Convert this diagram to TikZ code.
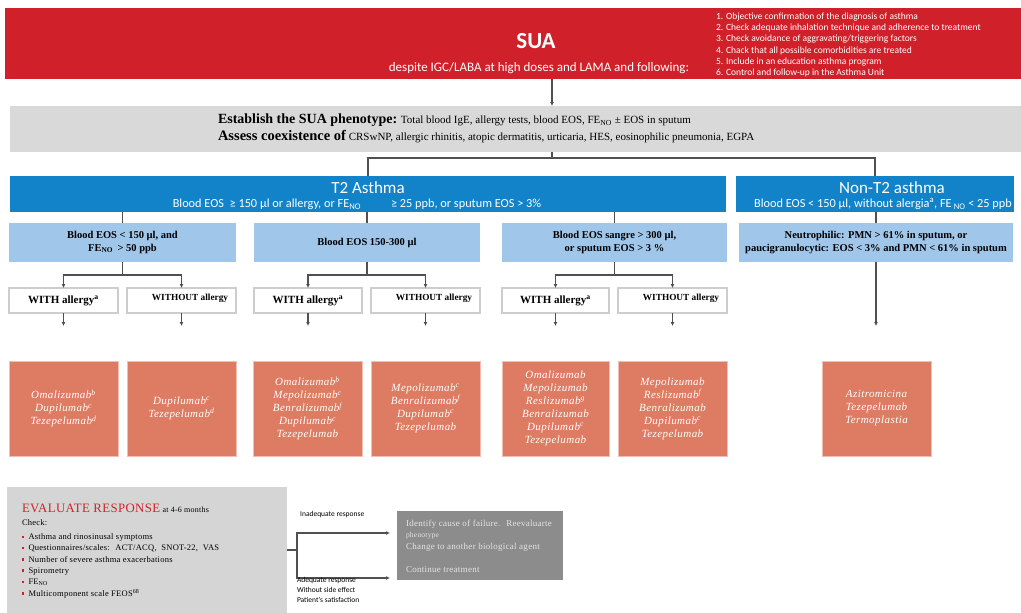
\documentclass[tikz,border=0pt]{standalone}
\usepackage{fontspec}
\setmainfont{Liberation Serif}
\newfontfamily\calibri{Carlito}
\newfontfamily\spacedserif{Liberation Serif}[LetterSpace=3]
\newfontfamily\drugserif{Liberation Serif}[LetterSpace=4]
\usetikzlibrary{arrows.meta}

\definecolor{suared}{RGB}{208,33,42}
\definecolor{tblue}{RGB}{18,131,200}
\definecolor{lblue}{RGB}{160,198,234}
\definecolor{drugorange}{RGB}{222,123,99}
\definecolor{drugedge}{RGB}{240,190,178}
\definecolor{phengray}{RGB}{217,217,217}
\definecolor{evalgray}{RGB}{213,213,213}
\definecolor{failgray}{RGB}{140,140,140}
\definecolor{failtext}{RGB}{228,228,228}
\definecolor{boxedge}{RGB}{205,205,205}
\definecolor{linegray}{RGB}{80,80,80}

% small red square for the check list
\newcommand{\evbullet}{\textcolor{suared}{\rule[1.5pt]{2.5pt}{2.5pt}}\hspace{4pt}}

\tikzset{
  box/.style={anchor=north west,inner sep=0pt,outer sep=0pt},
  conn/.style={draw=linegray,line width=1.1pt},
  arr/.style={conn,-{Latex[length=4pt,width=4pt]}},
  lightbox/.style={box,fill=lblue,minimum height=39pt,align=center,
    font=\bfseries\fontsize{10.5}{12.5}\selectfont},
  allergybox/.style={box,fill=white,draw=boxedge,line width=1.2pt,
    minimum height=25pt,font=\bfseries\fontsize{11}{12}\selectfont},
  withoutlabel/.style={label={[xshift=8.5pt,yshift=2pt,font=\bfseries\fontsize{9.3}{10}\selectfont]center:WITHOUT allergy}},
  drugbox/.style={box,fill=drugorange,draw=drugedge,line width=0.8pt,
    minimum width=109pt,minimum height=95pt,align=center,text=white,
    font=\drugserif\itshape\fontsize{11}{13}\selectfont},
}

\begin{document}
\begin{tikzpicture}[x=1pt,y=-1pt]
  \useasboundingbox (0,0) rectangle (1021,613);

  % red header with the checklist
  \node[box,fill=suared,minimum width=1016pt,minimum height=71pt] (sua) at (5,8) {};
  \node[white,font=\calibri\bfseries\fontsize{23}{26}\selectfont] (suatitle) at (536,41) {SUA};
  \node[white,font=\calibri\fontsize{13}{15}\selectfont] (despite) at (539,68)
    {despite IGC/LABA at high doses and LAMA and following:};
  \node[box,white,align=left,font=\calibri\fontsize{9.5}{11.2}\selectfont] (checks) at (716,13)
    {1. Objective confirmation of the diagnosis of asthma\\
     2. Check adequate inhalation technique and adherence to treatment\\
     3. Check avoidance of aggravating/triggering factors\\
     4. Chack that all possible comorbidities are treated\\
     5. Include in an education asthma program\\
     6. Control and follow-up in the Asthma Unit};

  % phenotype box
  \coordinate (spine) at (552,0);
  \node[box,fill=phengray,minimum width=1011pt,minimum height=46pt] (pheno) at (10,106) {};
  \node[box,align=left,font=\fontsize{11}{16.5}\selectfont] (phenotext) at (218,114)
    {{\bfseries\fontsize{14}{16.5}\selectfont Establish the SUA phenotype:}
     Total blood IgE, allergy tests, blood EOS, FE\textsubscript{NO} ± EOS in sputum\\
     {\bfseries\fontsize{14.5}{16.5}\selectfont Assess coexistence of}
     CRSwNP, allergic rhinitis, atopic dermatitis, urticaria, HES, eosinophilic pneumonia, EGPA};
  \draw[arr] (spine |- sua.south) -- (spine |- pheno.north);

  % T2 / non-T2
  \node[box,fill=tblue,minimum width=716pt,minimum height=36pt] (t2) at (10,176) {};
  \node[box,fill=tblue,minimum width=278pt,minimum height=36pt] (nont2) at (736,176) {};
  \node[white,font=\calibri\fontsize{17}{19}\selectfont] (t2title) at (368,188) {T2 Asthma};
  \node[white,font=\calibri\fontsize{12.3}{14}\selectfont] (t2sub) at (357,204)
    {Blood EOS \ ≥ 150 µl or allergy, or FE\textsubscript{NO}\hspace{30pt}≥ 25 ppb, or sputum EOS > 3\%};
  \node[white,font=\calibri\fontsize{17}{19}\selectfont] (nont2title) at (892,188) {Non-T2 asthma};
  \node[white,font=\calibri\fontsize{12.3}{14}\selectfont] (nont2sub) at (883,204)
    {Blood EOS < 150 µl, without alergia\textsuperscript{a}, FE\,\textsubscript{NO} < 25 ppb};
  \coordinate (split) at (552,158);
  \draw[conn] (split |- pheno.south) -- (split);
  \draw[conn] (t2.north) |- (split) -| (nont2.north);

  % blood EOS groups
  \node[lightbox,minimum width=227pt] (lb1) at (9,223) {Blood EOS < 150 µl, and\\FE\textsubscript{NO} \,> 50 ppb};
  \node[lightbox,minimum width=226pt] (lb2) at (254,223) {Blood EOS 150-300 µl};
  \node[lightbox,minimum width=225pt] (lb3) at (502,223) {Blood EOS sangre > 300 µl,\\or sputum EOS > 3 \%};
  \node[lightbox,minimum width=274pt] (lb4) at (739,223)
    {Neutrophilic: PMN > 61\% in sputum, or\\paucigranulocytic: EOS < 3\% and PMN < 61\% in sputum};
  \draw[conn] (t2.south -| lb1.north) -- (lb1.north);
  \draw[conn] (t2.south -| lb2.north) -- (lb2.north);
  \draw[conn] (t2.south -| lb3.north) -- (lb3.north);
  \draw[conn] (nont2.south -| lb4.north) -- (lb4.north);

  % with / without allergy
  \node[allergybox,minimum width=109pt] (w1) at (9,288) {WITH allergy\textsuperscript{a}};
  \node[allergybox,minimum width=109pt,withoutlabel] (wo1) at (127,288) {};
  \node[allergybox,minimum width=108pt] (w2) at (254,288) {WITH allergy\textsuperscript{a}};
  \node[allergybox,minimum width=109pt,withoutlabel] (wo2) at (371,288) {};
  \node[allergybox,minimum width=107pt] (w3) at (502,288) {WITH allergy\textsuperscript{a}};
  \node[allergybox,minimum width=109pt,withoutlabel] (wo3) at (618,288) {};
  \draw[arr] (lb1.south) -- ++(0,13) -| (w1.north);
  \draw[arr] (lb1.south) -- ++(0,13) -| (wo1.north);
  \draw[arr] (lb2.south) -- ++(0,13) -| (w2.north);
  \draw[arr] (lb2.south) -- ++(0,13) -| (wo2.north);
  \draw[arr] (lb3.south) -- ++(0,13) -| (w3.north);
  \draw[arr] (lb3.south) -- ++(0,13) -| (wo3.north);
  \foreach \b in {w1,wo1,w2,wo2,w3,wo3}
    \draw[arr] (\b.south) -- ++(0,13);
  \draw[arr] (lb4.south) -- ++(0,64);

  % biologics
  \node[drugbox] (drug1) at (9,361) {Omalizumab\textsuperscript{b}\\Dupilumab\textsuperscript{c}\\Tezepelumab\textsuperscript{d}};
  \node[drugbox] (drug2) at (127,361) {Dupilumab\textsuperscript{c}\\Tezepelumab\textsuperscript{d}};
  \node[drugbox] (drug3) at (253,361) {Omalizumab\textsuperscript{b}\\Mepolizumab\textsuperscript{c}\\Benralizumab\textsuperscript{f}\\Dupilumab\textsuperscript{c}\\Tezepelumab};
  \node[drugbox] (drug4) at (371,361) {Mepolizumab\textsuperscript{c}\\Benralizumab\textsuperscript{f}\\Dupilumab\textsuperscript{c}\\Tezepelumab};
  \node[drugbox,minimum width=107pt] (drug5) at (502,361) {Omalizumab\\Mepolizumab\\Reslizumab\textsuperscript{g}\\Benralizumab\\Dupilumab\textsuperscript{c}\\Tezepelumab};
  \node[drugbox] (drug6) at (618,361) {Mepolizumab\\Reslizumab\textsuperscript{f}\\Benralizumab\\Dupilumab\textsuperscript{c}\\Tezepelumab};
  \node[drugbox] (drug7) at (822,361) {Azitromicina\\Tezepelumab\\Termoplastia};

  % evaluate response
  \node[box,fill=evalgray,minimum width=280pt,minimum height=126pt] (evalbox) at (7,487) {};
  \node[box,align=left,font=\spacedserif\fontsize{8.5}{11.3}\selectfont] (evaltext) at (22,504)
    {{\color{suared}\fontsize{12.8}{15}\selectfont EVALUATE RESPONSE} {\fontsize{8}{10}\selectfont at 4-6 months}\\[1.5pt]
     Check:\\[3pt]
     \evbullet Asthma and rinosinusal symptoms\\
     \evbullet Questionnaires/scales: \ ACT/ACQ, \ SNOT-22, \ VAS\\
     \evbullet Number of severe asthma exacerbations\\
     \evbullet Spirometry\\
     \evbullet FE\textsubscript{NO}\\
     \evbullet Multicomponent scale FEOS\textsuperscript{68}};

  % response branches
  \node[box,fill=failgray,minimum width=166pt,minimum height=69pt] (failbox) at (397,511) {};
  \node[box,align=left,text=failtext,font=\spacedserif\fontsize{9}{11.5}\selectfont] (failtext) at (406,520)
    {Identify cause of failure. \ Reevaluarte\\
     {\fontsize{7.5}{9}\selectfont phenotype}\\
     Change to another biological agent\\[12pt]
     Continue treatment};
  \coordinate (inadtip) at (390,533);
  \coordinate (adtip) at (390,578);
  \draw[conn] (evalbox.east) -- ++(10,0) coordinate (fork);
  \draw[arr] (fork) |- (inadtip);
  \draw[arr] (fork) |- (adtip);
  \node[anchor=west,inner sep=0pt,font=\calibri\fontsize{7.5}{9}\selectfont] (inadlabel) at (300,514) {Inadequate response};
  \node[box,align=left,font=\calibri\fontsize{7.5}{10}\selectfont] (adlabel) at (297,577)
    {Adequate response\\Without side effect\\Patient's satisfaction};
\end{tikzpicture}
\end{document}
